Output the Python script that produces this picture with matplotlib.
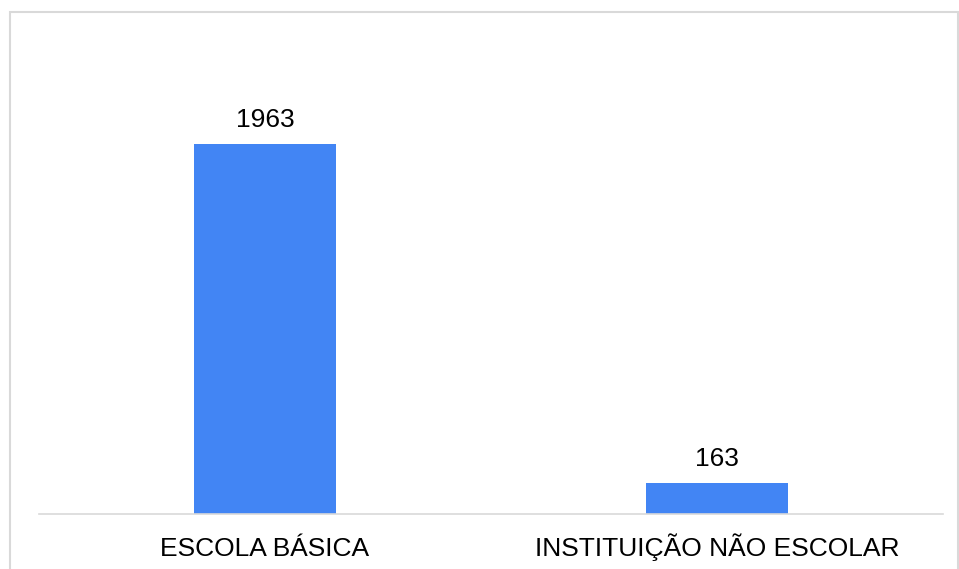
import matplotlib
matplotlib.use('Agg')
import matplotlib.pyplot as plt
from matplotlib.patches import Rectangle

categories = ['ESCOLA BÁSICA', 'INSTITUIÇÃO NÃO ESCOLAR']
values = [1963, 163]

bar_color = '#4285F4'
grid_color = '#d9d9d9'

plt.rcParams['font.family'] = ['Liberation Sans', 'DejaVu Sans']

fig = plt.figure(figsize=(9.59, 5.69), dpi=100)
ax = fig.add_axes([39 / 959, 1 - 514 / 569, (943 - 39) / 959, (514 - 13) / 569])

x = list(range(len(categories)))
bars = ax.bar(x, values, width=0.314, color=bar_color, zorder=2)

ax.set_xlim(-0.5, len(categories) - 0.5)
ax.set_ylim(0, 2658)
ax.set_xticks(x)
ax.set_xticklabels(categories, fontsize=19, color='#000000')
ax.tick_params(axis='x', length=0, pad=30)
for lbl in ax.get_xticklabels():
    lbl.set_verticalalignment('baseline')
ax.set_yticks([])

for side in ['top', 'right', 'left']:
    ax.spines[side].set_visible(False)
ax.spines['bottom'].set_color(grid_color)
ax.spines['bottom'].set_linewidth(1.2)

for b, v in zip(bars, values):
    ax.annotate(str(v), (b.get_x() + b.get_width() / 2, v),
                xytext=(0, 12.5), textcoords='offset points',
                ha='center', va='baseline', fontsize=19, color='#000000')

# light frame around the chart area
fig.patches.append(Rectangle((9.5 / 959, -0.1), (958 - 9.5) / 959, 1.1 - 12.5 / 569,
                             transform=fig.transFigure, fill=False,
                             edgecolor=grid_color, linewidth=1.5))

fig.savefig('out.png', dpi=100, facecolor='white')
